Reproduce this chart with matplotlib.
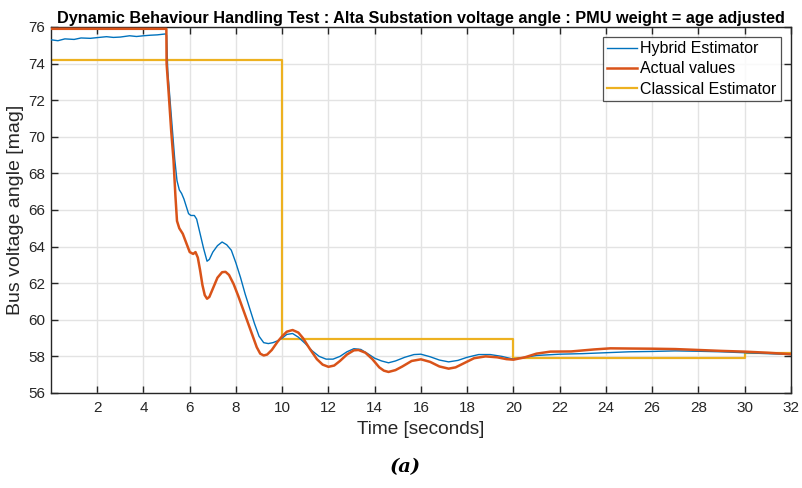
import numpy as np
import matplotlib.pyplot as plt

plt.rcParams['font.family'] = ['Liberation Sans', 'DejaVu Sans']

# Actual values
t_act = [0, 4.99, 5.0, 5.1, 5.2, 5.3, 5.38, 5.45, 5.55, 5.7, 5.85, 6.0, 6.15, 6.25, 6.35,
         6.45, 6.55, 6.65, 6.75, 6.85, 7.0, 7.2, 7.4, 7.55, 7.7, 7.9, 8.1, 8.3, 8.5, 8.7,
         8.9, 9.05, 9.2, 9.35, 9.55, 9.8, 10.0, 10.2, 10.45, 10.7, 10.9, 11.2, 11.5, 11.75,
         12.0, 12.25, 12.5, 12.8, 13.1, 13.3, 13.6, 13.9, 14.2, 14.4, 14.6, 14.9, 15.2,
         15.6, 16.0, 16.4, 16.8, 17.2, 17.5, 17.9, 18.3, 18.8, 19.3, 19.7, 20.0, 20.5,
         21.0, 21.6, 22.5, 23.5, 24.2, 25, 26, 27, 28, 29, 30, 31, 32]
v_act = [75.9, 75.9, 74.0, 72.2, 70.3, 68.7, 66.8, 65.4, 65.0, 64.7, 64.2, 63.7, 63.6, 63.7, 63.4,
         62.7, 61.9, 61.35, 61.15, 61.25, 61.7, 62.3, 62.6, 62.62, 62.45, 61.95, 61.3, 60.6, 59.9, 59.2,
         58.5, 58.15, 58.05, 58.1, 58.35, 58.8, 59.1, 59.35, 59.44, 59.3, 59.0, 58.4, 57.85, 57.55,
         57.43, 57.5, 57.75, 58.1, 58.33, 58.35, 58.2, 57.85, 57.4, 57.22, 57.15, 57.25, 57.45,
         57.75, 57.84, 57.7, 57.45, 57.33, 57.4, 57.65, 57.9, 58.0, 57.95, 57.85, 57.82, 57.95,
         58.15, 58.26, 58.27, 58.38, 58.44, 58.43, 58.42, 58.4, 58.35, 58.3, 58.26, 58.2, 58.12]

# Hybrid estimator
t_hyb = [0, 0.3, 0.6, 1.0, 1.3, 1.7, 2.0, 2.4, 2.7, 3.0, 3.4, 3.7, 4.0, 4.3, 4.6, 4.95, 5.0,
         5.05, 5.15, 5.25, 5.35, 5.45, 5.55, 5.65, 5.75, 5.85, 5.95, 6.05, 6.2, 6.3, 6.45, 6.6,
         6.75, 6.85, 7.0, 7.2, 7.4, 7.6, 7.8, 8.0, 8.2, 8.4, 8.6, 8.8, 9.0, 9.2, 9.4, 9.6, 9.8,
         10.0, 10.2, 10.45, 10.7, 11.0, 11.3, 11.6, 11.9, 12.2, 12.5, 12.8, 13.1, 13.4, 13.7,
         14.0, 14.3, 14.6, 14.9, 15.3, 15.7, 16.0, 16.4, 16.8, 17.2, 17.6, 18.0, 18.5, 19.0,
         19.5, 20.0, 20.5, 21.0, 22, 23, 24, 25, 26, 27, 28, 29, 30, 31, 32]
v_hyb = [75.3, 75.25, 75.35, 75.32, 75.4, 75.38, 75.42, 75.47, 75.43, 75.45, 75.52, 75.48, 75.52, 75.55, 75.57, 75.62, 75.55,
         73.6, 72.0, 70.4, 68.8, 67.6, 67.1, 66.9, 66.6, 66.2, 65.8, 65.7, 65.7, 65.5, 64.7, 63.9,
         63.2, 63.3, 63.7, 64.05, 64.25, 64.1, 63.8, 63.1, 62.3, 61.4, 60.6, 59.8, 59.1, 58.75, 58.7, 58.75, 58.85,
         59.0, 59.2, 59.25, 59.05, 58.7, 58.3, 58.0, 57.85, 57.85, 58.0, 58.25, 58.42, 58.38, 58.15,
         57.9, 57.75, 57.65, 57.75, 57.95, 58.1, 58.12, 57.98, 57.8, 57.7, 57.78, 57.95, 58.1, 58.1,
         58.0, 57.85, 57.95, 58.05, 58.12, 58.15, 58.2, 58.25, 58.27, 58.3, 58.28, 58.25, 58.2, 58.15, 58.1]

# Classical estimator (step)
t_cls = [0, 10, 10, 20, 20, 30, 30, 32]
v_cls = [74.2, 74.2, 58.97, 58.97, 57.9, 57.9, 58.18, 58.18]

fig = plt.figure(figsize=(8.02, 4.88), dpi=100)
ax = fig.add_axes([0.0636, 0.1947, 0.9224, 0.75])

ax.plot(t_hyb, v_hyb, color='#0072BD', lw=1.0, label='Hybrid Estimator', zorder=3)
ax.plot(t_act, v_act, color='#D95319', lw=1.8, label='Actual values', zorder=4)
ax.plot(t_cls, v_cls, color='#EDB120', lw=1.6, label='Classical Estimator', zorder=2)

ax.set_xlim(0, 32)
ax.set_ylim(56, 76)
ax.set_xticks(np.arange(2, 33, 2))
ax.set_yticks(np.arange(56, 77, 2))
ax.grid(True, color='#e3e3e3', lw=1.0)
ax.set_axisbelow(True)
ax.tick_params(direction='in', top=True, right=True, length=5, width=1,
               labelsize=11, colors='#262626')
ax.tick_params(axis='x', pad=6)
ax.tick_params(axis='y', pad=4)
for s in ax.spines.values():
    s.set_color('#262626')
    s.set_linewidth(1.0)

ax.set_title('Dynamic Behaviour Handling Test : Alta Substation voltage angle : PMU weight = age adjusted',
             fontsize=11.7, fontweight='bold', pad=3)
ax.set_xlabel('Time [seconds]', fontsize=13.7, color='#262626', labelpad=4)
ax.set_ylabel('Bus voltage angle [mag]', fontsize=14, color='#262626', labelpad=3)

leg = ax.legend(loc='upper right', fontsize=11.5, frameon=True, fancybox=False,
                edgecolor='#262626', handlelength=1.85, handletextpad=0.2,
                borderpad=0.3, labelspacing=0.32, borderaxespad=0.6)
leg.get_frame().set_linewidth(0.9)

fig.text(0.506, 0.043, '(a)', fontsize=14, fontweight='bold', fontstyle='italic',
         family='DejaVu Serif', ha='center', va='center')

fig.savefig('out.png', dpi=100)
